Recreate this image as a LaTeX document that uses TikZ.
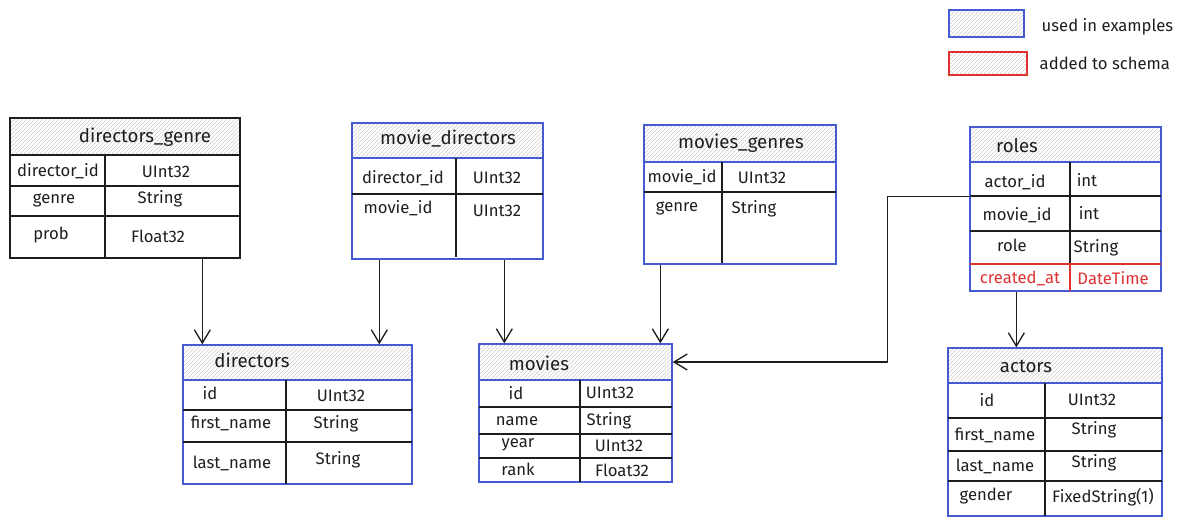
\documentclass[tikz,border=0pt]{standalone}
\usepackage{fontspec}
\setmainfont{Fira Sans}
\usetikzlibrary{arrows.meta,patterns,fit,calc}
\definecolor{skblue}{RGB}{70,90,210}
\definecolor{skred}{RGB}{224,49,49}
\definecolor{skink}{RGB}{30,30,30}
\tikzset{
  tbl/.style={draw=#1, line width=1pt, inner sep=0pt},
  head/.style={draw=#1, line width=1pt, inner sep=0pt, pattern=north east lines, pattern color=gray!40},
  title/.style={font=\fontsize{14}{16}\selectfont, text=skink},
  fld/.style={font=\fontsize{12.5}{14}\selectfont, text=skink},
  sep/.style={draw=skink, line width=1pt},
  arr/.style={draw=skink, line width=1pt, -{Straight Barb[length=10pt,width=12pt]}}
}
\begin{document}
\begin{tikzpicture}[x=0.75pt,y=-0.75pt]
\useasboundingbox (0,0) rectangle (1180,526);

% legend
\node[head=skblue, fit={(949,10) (1024,37)}] (leg1) {};
\node[fld, anchor=west] (leg1-t) at (1037,27) {used in examples};
\node[head=skred, fit={(949,52) (1027,75)}] (leg2) {};
\node[fld, anchor=west] (leg2-t) at (1035,63) {added to schema};

% directors_genre
\node[tbl=skink, fit={(10,118) (240,258)}] (dg) {};
\node[head=skink, fit={(10,118) (240,155)}] (dg-h) {};
\node[title] (dg-t) at (145,137) {directors\_genre};
\draw[sep] (10,186) -- (240,186) (10,216) -- (240,216) (105,155) -- (105,258);
\foreach \x/\y/\t [count=\i] in {58/171/director\_id, 166/172/UInt32, 54/200/genre,
    160/199/String, 51/235/prob, 158/236/Float32}
  \node[fld] (dg-\i) at (\x,\y) {\t};

% movie_directors
\node[tbl=skblue, fit={(352,123) (543,259)}] (md) {};
\node[head=skblue, fit={(352,123) (543,158)}] (md-h) {};
\node[title] (md-t) at (448,139) {movie\_directors};
\draw[sep] (352,194) -- (543,194) (456,158) -- (456,257);
\foreach \x/\y/\t [count=\i] in {403/178/director\_id, 497/178/UInt32,
    398/208/movie\_id, 497/211/UInt32}
  \node[fld] (md-\i) at (\x,\y) {\t};

% movies_genres
\node[tbl=skblue, fit={(644,125) (836,264)}] (mg) {};
\node[head=skblue, fit={(644,125) (836,162)}] (mg-h) {};
\node[title] (mg-t) at (741,143) {movies\_genres};
\draw[sep] (644,192) -- (836,192) (722,162) -- (722,263);
\foreach \x/\y/\t [count=\i] in {682/177/movie\_id, 762/178/UInt32,
    677/208/genre, 754/209/String}
  \node[fld] (mg-\i) at (\x,\y) {\t};

% roles
\node[tbl=skblue, fit={(970,127) (1161,291)}] (roles) {};
\node[head=skblue, fit={(970,127) (1161,162)}] (roles-h) {};
\node[title] (roles-t) at (1017,146) {roles};
\draw[sep] (970,196) -- (1161,196) (970,231) -- (1161,231) (1070,162) -- (1070,264);
\draw[sep, draw=skred] (970,264) -- (1161,264) (1070,264) -- (1070,291);
\foreach \x/\y/\t [count=\i] in {1015/182/actor\_id, 1087/180/int, 1017/215/movie\_id,
    1089/213/int, 1012/245/role, 1096/248/String}
  \node[fld] (roles-\i) at (\x,\y) {\t};
\node[fld, text=skred] (roles-7) at (1020,278) {created\_at};
\node[fld, text=skred] (roles-8) at (1113,278) {DateTime};

% directors
\node[tbl=skblue, fit={(183,345) (412,484)}] (dir) {};
\node[head=skblue, fit={(183,345) (412,380)}] (dir-h) {};
\node[title] (dir-t) at (252,360) {directors};
\draw[sep] (183,410) -- (412,410) (183,442) -- (412,442) (286,380) -- (286,484);
\foreach \x/\y/\t [count=\i] in {210/393/id, 341/396/UInt32, 231/423/first\_name,
    336/424/String, 232/463/last\_name, 338/460/String}
  \node[fld] (dir-\i) at (\x,\y) {\t};

% movies
\node[tbl=skblue, fit={(479,344) (672,482)}] (mov) {};
\node[head=skblue, fit={(479,344) (672,380)}] (mov-h) {};
\node[title] (mov-t) at (539,363) {movies};
\draw[sep] (479,407) -- (672,407) (479,434) -- (672,434) (479,458) -- (672,458)
  (580,380) -- (580,482);
\foreach \x/\y/\t [count=\i] in {516/393/id, 610/393/UInt32, 517/421/name,
    609/421/String, 518/445/year, 619/446/UInt32, 518/469/rank, 622/470/Float32}
  \node[fld] (mov-\i) at (\x,\y) {\t};

% actors
\node[tbl=skblue, fit={(948,348) (1162,516)}] (act) {};
\node[head=skblue, fit={(948,348) (1162,383)}] (act-h) {};
\node[title] (act-t) at (1026,366) {actors};
\draw[sep] (948,418) -- (1162,418) (948,451) -- (1162,451) (948,481) -- (1162,481)
  (1045,383) -- (1045,516);
\foreach \x/\y/\t [count=\i] in {987/400/id, 1092/400/UInt32, 995/435/first\_name,
    1094/430/String, 995/466/last\_name, 1094/463/String, 986/496/gender,
    1103/497/FixedString(1)}
  \node[fld] (act-\i) at (\x,\y) {\t};

% links
\draw[arr] ($(dg.south west)+(193,0)$) coordinate (l1) -- (l1 |- dir.north);
\draw[arr] ($(md.south west)+(28,0)$) coordinate (l2) -- (l2 |- dir.north);
\draw[arr] ($(md.south west)+(153,0)$) coordinate (l3) -- (l3 |- mov.north);
\draw[arr] ($(mg.south west)+(17,0)$) coordinate (l4) -- (l4 |- mov.north);
\draw[arr] ($(roles.north west)+(0,70)$) -| ($(mov-h.east)+(215,0)$) -- (mov-h.east);
\draw[arr] ($(roles.south west)+(47,0)$) coordinate (l5) -- (l5 |- act.north);
\end{tikzpicture}
\end{document}
